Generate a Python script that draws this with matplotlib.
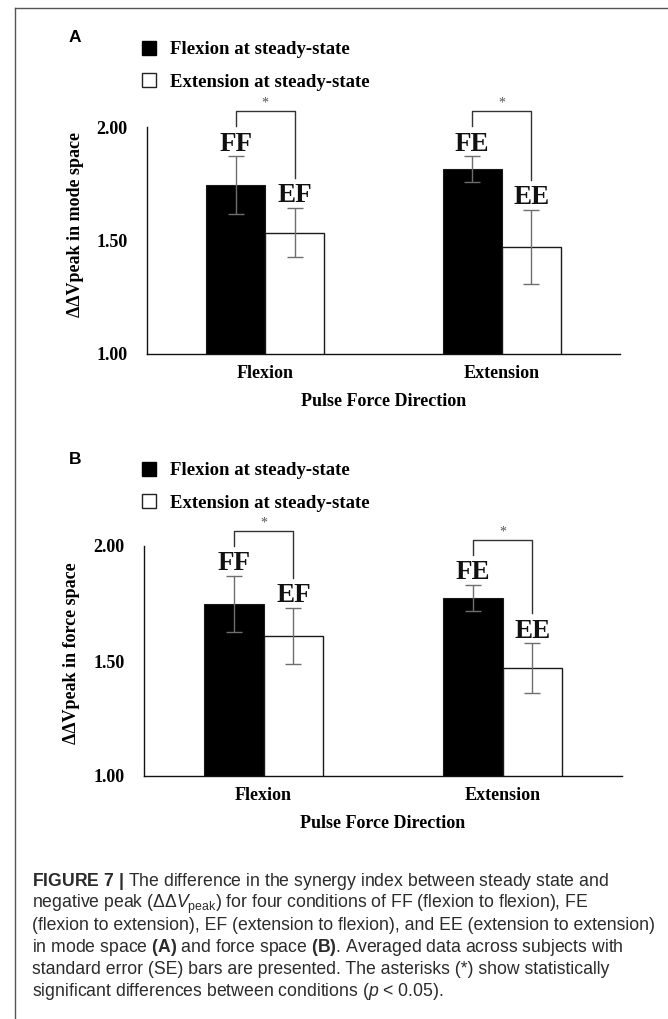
import numpy as np
import matplotlib.pyplot as plt
from matplotlib.patches import Patch
from matplotlib.lines import Line2D

plt.rcParams['mathtext.fontset'] = 'custom'
plt.rcParams['mathtext.rm'] = 'Liberation Sans'
plt.rcParams['mathtext.it'] = 'Liberation Sans:italic'
plt.rcParams['mathtext.bf'] = 'Liberation Sans:bold'

W, H = 668, 1019

categories = ['Flexion', 'Extension']
series_names = ['Flexion at steady-state', 'Extension at steady-state']
cond_labels = [['FF', 'FE'], ['EF', 'EE']]

# (A) mode space
mode_flex = [1.745, 1.815]
mode_flex_se = [0.127, 0.057]
mode_ext = [1.535, 1.472]
mode_ext_se = [0.108, 0.163]

# (B) force space
force_flex = [1.748, 1.774]
force_flex_se = [0.122, 0.057]
force_ext = [1.609, 1.470]
force_ext_se = [0.122, 0.108]

y_ticks = [1.00, 1.50, 2.00]

caption = [
    r"$\mathbf{FIGURE\ 7\ |}$ The difference in the synergy index between steady state and",
    r"negative peak ($\Delta\Delta V_{\mathrm{peak}}$) for four conditions of FF (flexion to flexion), FE",
    "(flexion to extension), EF (extension to flexion), and EE (extension to extension)",
    r"in mode space $\mathbf{(A)}$ and force space $\mathbf{(B)}$. Averaged data across subjects with",
    "standard error (SE) bars are presented. The asterisks (*) show statistically",
    r"significant differences between conditions ($p$ < 0.05).",
]

serif = 'Liberation Serif'


def px_box(l, t, r, b):
    return [l / W, 1 - b / H, (r - l) / W, (b - t) / H]


def panel(ax, flex, flex_se, ext, ext_se, ylabel, ylab_y, legend_top):
    x = np.arange(len(categories))
    w = 0.25
    ekw = dict(ecolor='#6e6e6e', elinewidth=1.0, capsize=5.5, capthick=1.0)
    ax.bar(x - w / 2, flex, w, yerr=flex_se, color='black', edgecolor='#1a1a1a',
           linewidth=0.8, error_kw=ekw)
    ax.bar(x + w / 2, ext, w, yerr=ext_se, color='white', edgecolor='#1a1a1a',
           linewidth=1.0, error_kw=ekw)
    ax.set_xlim(-0.5, 1.5)
    ax.set_ylim(1, 2)

    for s in ['top', 'right']:
        ax.spines[s].set_visible(False)
    for s in ['left', 'bottom']:
        ax.spines[s].set_color('#111')
        ax.spines[s].set_linewidth(1.0)

    ax.set_yticks(y_ticks)
    ax.set_yticklabels([f'{t:.2f}' for t in y_ticks], fontfamily=serif,
                       fontweight='bold', fontsize=13)
    ax.set_xticks(x)
    ax.set_xticklabels(categories, fontfamily=serif, fontweight='bold', fontsize=13)
    ax.tick_params(axis='y', length=0, pad=14)
    ax.tick_params(axis='x', length=0, pad=8)

    ax.set_ylabel(ylabel, fontfamily=serif, fontweight='bold', fontsize=13, va='center')
    ax.yaxis.set_label_coords(-0.152, ylab_y)
    ax.set_xlabel('Pulse Force Direction', fontfamily=serif, fontweight='bold',
                  fontsize=13, va='center')
    ax.xaxis.set_label_coords(0.5, -47 / ax.bbox.height)

    # condition labels and significance brackets
    ppu = ax.bbox.height / 1.0
    for i in range(len(categories)):
        x1, x2 = x[i] - w / 2, x[i] + w / 2
        top1 = flex[i] + flex_se[i]
        top2 = ext[i] + ext_se[i]
        for xx, tt, lab in [(x1, top1, cond_labels[0][i]), (x2, top2, cond_labels[1][i])]:
            ax.annotate(lab, (xx, tt), xytext=(0, 4), textcoords='offset points',
                        ha='center', va='baseline', fontsize=19.5, fontfamily=serif,
                        fontweight='bold', color='#111', annotation_clip=False)
        y1 = top1 + 30 / ppu
        y2 = top2 + 30 / ppu
        yt = max(y1, y2) + 15 / ppu
        ax.plot([x1, x1, x2, x2], [y1, yt, yt, y2], color='#333', lw=1, clip_on=False)
        ax.annotate('*', ((x1 + x2) / 2, yt), xytext=(0, 1), textcoords='offset points',
                    ha='center', va='bottom', fontsize=10, color='#555',
                    fontfamily=serif, annotation_clip=False)

    handles = [Patch(facecolor='black', edgecolor='black'),
               Patch(facecolor='white', edgecolor='#222')]
    ax.legend(handles, series_names, loc='upper left',
              bbox_to_anchor=(142 / W, 1 - legend_top / H),
              bbox_transform=ax.figure.transFigure, frameon=False,
              prop=dict(family=serif, weight='bold', size=13.5),
              handlelength=0.75, handleheight=0.75, handletextpad=0.75,
              labelspacing=0.8, borderpad=0, borderaxespad=0)


fig = plt.figure(figsize=(W / 100, H / 100), dpi=100)

axA = fig.add_axes(px_box(147, 127, 620, 354))
panel(axA, mode_flex, mode_flex_se, mode_ext, mode_ext_se,
      'ΔΔVpeak in mode space', 0.57, 41)

axB = fig.add_axes(px_box(144, 546, 622, 776))
panel(axB, force_flex, force_flex_se, force_ext, force_ext_se,
      'ΔΔVpeak in force space', 0.535, 462)

fig.text(75 / W, 1 - 37 / H, 'A', ha='center', va='center', family='Liberation Sans',
         weight='bold', fontsize=12.5)
fig.text(75 / W, 1 - 460 / H, 'B', ha='center', va='center', family='Liberation Sans',
         weight='bold', fontsize=12.5)

for k, line in enumerate(caption):
    fig.text(32 / W, 1 - (886 + 22 * k) / H, line, ha='left', va='baseline',
             family='Liberation Sans', fontsize=12.7, color='#2b2b2b')

# frame of the figure box
fig.add_artist(Line2D([15 / W, 1], [1 - 8 / H, 1 - 8 / H], transform=fig.transFigure,
                      color='#555', lw=1))
fig.add_artist(Line2D([15 / W, 15 / W], [1 - 8 / H, 0], transform=fig.transFigure,
                      color='#555', lw=1))

fig.savefig('out.png', dpi=100)
